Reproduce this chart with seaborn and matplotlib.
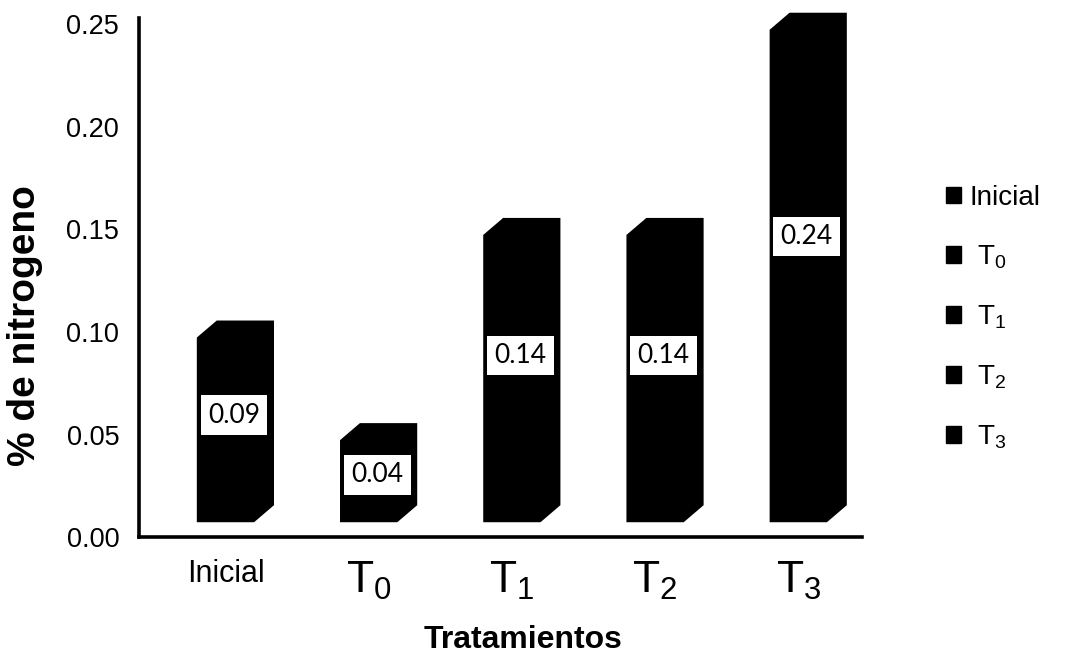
import matplotlib
matplotlib.use('Agg')
import matplotlib.pyplot as plt
import seaborn as sns
from matplotlib.patches import Polygon, Patch
from matplotlib import font_manager as fm

# ---- data ----
categories = ['Inicial', 'T0', 'T1', 'T2', 'T3']
values = [0.09, 0.04, 0.14, 0.14, 0.24]
value_labels = ['0.09', '0.04', '0.14', '0.14', '0.24']
tick_labels = ['Inicial', 'T$_0$', 'T$_1$', 'T$_2$', 'T$_3$']
legend_labels = ['Inicial', ' T$_0$', ' T$_1$', ' T$_2$', ' T$_3$']
yticks = [0.00, 0.05, 0.10, 0.15, 0.20, 0.25]
ytick_labels = ['0.00', '0.05', '0.10', '0.15', '0.20', '0.25']

sns.set_theme(style='white')
names = {f.name for f in fm.fontManager.ttflist}
narrow = 'Liberation Sans Narrow' if 'Liberation Sans Narrow' in names else 'Liberation Sans'
plt.rcParams['font.family'] = ['Liberation Sans', 'DejaVu Sans']
plt.rcParams['text.color'] = 'black'
plt.rcParams['axes.labelcolor'] = 'black'
plt.rcParams['xtick.color'] = 'black'
plt.rcParams['ytick.color'] = 'black'
plt.rcParams['mathtext.fontset'] = 'custom'
plt.rcParams['mathtext.rm'] = 'Liberation Sans'
plt.rcParams['mathtext.it'] = 'Liberation Sans:italic'
plt.rcParams['mathtext.bf'] = 'Liberation Sans:bold'

fig = plt.figure(figsize=(10.75, 6.69), dpi=100)
fig.patch.set_facecolor('white')
ax = fig.add_axes([0.129, 0.197, 0.673, 0.776])
ax.set_facecolor('white')

sns.barplot(x=categories, y=values, color='black', width=0.40, saturation=1, ax=ax)

# turn the flat bars into bevelled "3D" silhouettes
base = 0.0073
dx = 0.139
dy = 0.0083
bars = list(ax.patches)
for p in bars:
    x0 = p.get_x()
    x1 = x0 + p.get_width()
    top = base + p.get_height()
    poly = Polygon([(x0, base), (x1, base), (x1 + dx, base + dy), (x1 + dx, top + dy),
                    (x0 + dx, top + dy), (x0, top)], closed=True,
                   facecolor='black', edgecolor='black', lw=0, clip_on=False, zorder=3)
    p.set_visible(False)
    ax.add_patch(poly)

for p, v, lab in zip(bars, values, value_labels):
    cx = p.get_x() + p.get_width() / 2 + 0.06
    cy = base + 0.58 * v
    ax.text(cx, cy, lab, ha='center', va='center', fontsize=19,
            family=['Lato', 'DejaVu Sans'], color='black', zorder=5,
            bbox=dict(boxstyle='square,pad=0.28', facecolor='white', edgecolor='none'))

ax.set_xlim(-0.606, 4.446)
ax.set_ylim(0, 0.253)
ax.set_yticks(yticks)
ax.set_yticklabels(ytick_labels, fontsize=19.5)
ax.set_xticks(range(len(categories)))
ax.set_xticklabels(tick_labels)
for i, t in enumerate(ax.get_xticklabels()):
    t.set_fontsize(22 if i == 0 else 32)
ax.tick_params(axis='y', length=0, pad=14, colors='black')
ax.tick_params(axis='x', length=0, pad=16, colors='black')

for s in ['top', 'right']:
    ax.spines[s].set_visible(False)
for s in ['left', 'bottom']:
    ax.spines[s].set_linewidth(2.6)
    ax.spines[s].set_color('black')

ax.set_xlabel('Tratamientos', fontsize=23, fontweight='bold', family=[narrow, 'DejaVu Sans'],
              va='center', color='black')
ax.xaxis.set_label_coords(0.531, -0.198)
ax.set_ylabel('% de nitrogeno', fontsize=28, fontweight='bold', va='center', color='black')
ax.yaxis.set_label_coords(-0.157, 0.408)

handles = [Patch(facecolor='black', edgecolor='black') for _ in legend_labels]
fig.legend(handles, legend_labels, loc='center left', bbox_to_anchor=(0.880, 0.525),
           frameon=False, fontsize=20, handlelength=0.55, handleheight=0.55,
           handletextpad=0.3, labelspacing=1.17, borderpad=0, borderaxespad=0)

fig.savefig('out.png', dpi=100, facecolor='white')
